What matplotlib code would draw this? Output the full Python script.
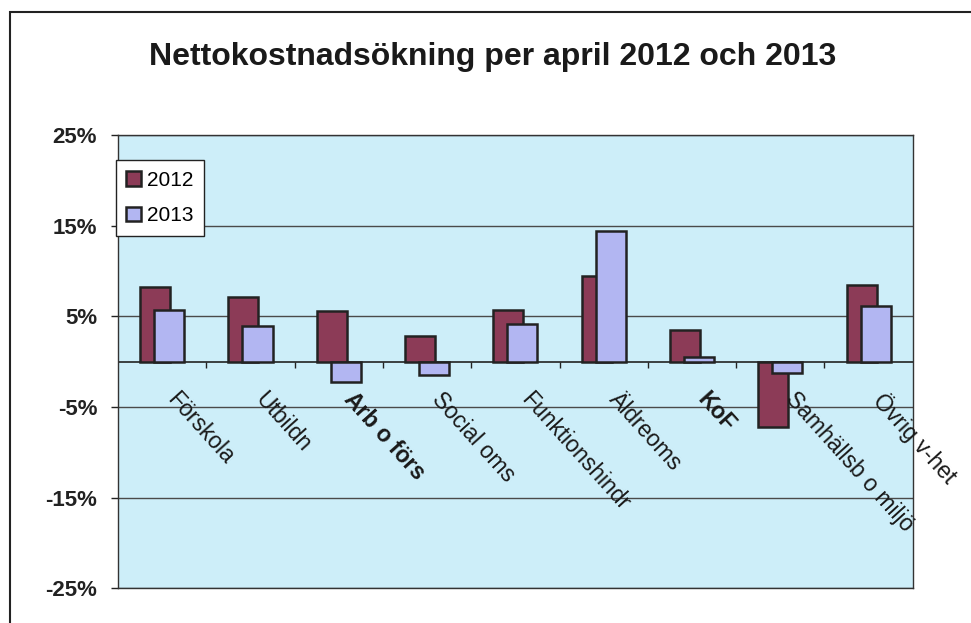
# Nettokostnadsökning per april 2012 och 2013 - bar chart recreation

import numpy as np
import matplotlib.pyplot as plt
from matplotlib.patches import Rectangle

plt.rcParams['font.family'] = ['Liberation Sans', 'DejaVu Sans']

# Data (percent)
categories = ["Förskola", "Utbildn", "Arb o förs", "Social oms", "Funktionshindr",
              "Äldreoms", "KoF", "Samhällsb o miljö", "Övrig v-het"]
values_2012 = [8.2, 7.1, 5.6, 2.8, 5.7, 9.5, 3.5, -7.2, 8.5]
values_2013 = [5.7, 3.9, -2.2, -1.5, 4.2, 14.4, 0.5, -1.2, 6.1]
bold_labels = ["Arb o förs", "KoF"]
y_ticks = [25, 15, 5, -5, -15, -25]


def main():
    fig = plt.figure(figsize=(9.71, 6.23), dpi=100)
    ax = fig.add_axes([0.1215, 0.056, 0.8185, 0.727])

    x = np.arange(len(categories))
    width = 0.34
    off = 0.08

    ax.set_facecolor('#cdeef9')
    ax.bar(x - off, values_2012, width, color='#8c3b57', edgecolor='#222222',
           linewidth=1.8, label='2012', zorder=3)
    ax.bar(x + off, values_2013, width, color='#b2b6f2', edgecolor='#222222',
           linewidth=1.8, label='2013', zorder=4)

    # gridlines and category axis at zero
    for t in y_ticks:
        ax.axhline(t, color='#4a4a4a', linewidth=1.0, zorder=1)
    ax.axhline(0, color='#222222', linewidth=1.2, zorder=2)
    ax.vlines(x[:-1] + 0.5, -0.7, 0, color='#222222', linewidth=1.0, zorder=2)

    ax.set_xlim(-0.5, len(categories) - 0.5)
    ax.set_ylim(-25, 25)
    ax.set_xticks([])
    ax.set_yticks(y_ticks)
    ax.set_yticklabels([f"{t}%" for t in y_ticks], fontsize=16, fontweight='bold',
                       color='#222222')
    ax.tick_params(axis='y', direction='out', length=5, width=1, color='#222222', pad=10)
    for s in ax.spines.values():
        s.set_color('#333333')
        s.set_linewidth(1.0)

    # rotated category labels inside the plot
    for i, name in enumerate(categories):
        weight = 'bold' if name in bold_labels else 'normal'
        ax.text(i + 0.2, -2.9, name, rotation=-48, rotation_mode='anchor',
                ha='left', va='top', fontsize=16.5, fontweight=weight,
                color='#1a1a1a', zorder=5)

    leg = ax.legend(loc='upper left', bbox_to_anchor=(-0.003, 0.945), borderaxespad=0,
                    fontsize=15, frameon=True, fancybox=False, handlelength=0.7,
                    handleheight=0.7, handletextpad=0.3, labelspacing=0.8,
                    borderpad=0.5)
    leg.get_frame().set_edgecolor('#222222')
    leg.get_frame().set_linewidth(1.0)
    leg.get_frame().set_facecolor('white')
    leg.get_frame().set_alpha(1)

    fig.text(0.507, 0.908, "Nettokostnadsökning per april 2012 och 2013",
             ha='center', va='center', fontsize=23, fontweight='bold', color='#1a1a1a')

    # chart border
    fig.patches.append(Rectangle((0.0105, -0.05), 1.1, 1.031, transform=fig.transFigure,
                                 fill=False, edgecolor='#222222', linewidth=1.5))

    fig.savefig('out.png', dpi=100)


if __name__ == "__main__":
    main()
